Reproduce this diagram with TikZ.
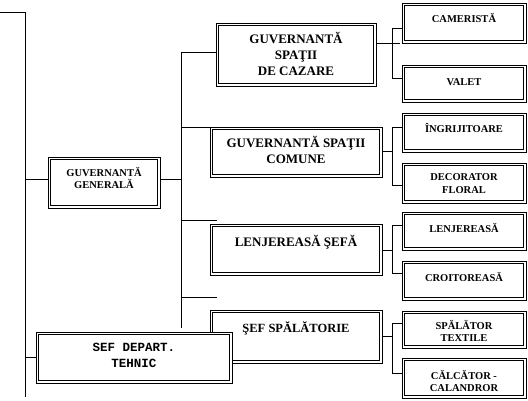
\documentclass[tikz,border=0pt]{standalone}
\usepackage{fontspec}
\setmainfont{Liberation Serif}
\newfontfamily\monofnt{Liberation Mono}
\usetikzlibrary{calc}
\tikzset{
  obox/.style={draw, line width=0.7pt, fill=white, inner sep=0pt, outer sep=0pt},
  ibox/.style={line width=1.2pt},
  conn/.style={line width=0.7pt},
  big/.style={font=\bfseries\fontsize{13}{16}\selectfont, align=center, inner sep=0pt},
  mid/.style={font=\bfseries\fontsize{10.5}{12}\selectfont, align=center, inner sep=0pt},
  small/.style={font=\bfseries\fontsize{10.5}{13}\selectfont, align=center, inner sep=0pt},
  mono/.style={font=\monofnt\bfseries\fontsize{12.5}{16}\selectfont, align=center, inner sep=0pt}
}
\newcommand\dblbox[5]{%
  \node[obox, minimum width={#4-#2}, minimum height={#5-#3}] (#1) at ({(#2+#4)/2},{(#3+#5)/2}) {};
  \draw[ibox] ($(#1.north west)+(2.7,2.7)$) rectangle ($(#1.south east)+(-2.7,-2.7)$);
}
\begin{document}
\begin{tikzpicture}[x=1pt,y=-1pt]
\useasboundingbox (0,0) rectangle (528,401);
% spine and connectors
\draw[conn] (0,12) -- (25,12) -- (25,397);
\draw[conn] (181,52) -- (181,328);
% boxes
\dblbox{gg}{48}{157}{160}{208}
\dblbox{gsc}{216}{23}{376}{86}
\dblbox{gscom}{210}{127}{382}{177}
\dblbox{ls}{210}{224}{382}{275}
\dblbox{ss}{210}{310}{382}{363}
\dblbox{cam}{402}{3}{526}{43}
\dblbox{val}{402}{65}{526}{102}
\dblbox{ing}{402}{113}{526}{152}
\dblbox{dec}{402}{163}{526}{203}
\dblbox{len}{402}{212}{526}{250}
\dblbox{cro}{402}{261}{526}{300}
\dblbox{spt}{402}{311}{526}{348}
\dblbox{cal}{402}{358}{526}{398}
\dblbox{sdt}{36}{332}{232}{383}
% texts
\node[mid] (ggt) at (104,178) {GUVERNANTĂ\\GENERALĂ};
\node[big] (gsct) at (296,54) {GUVERNANTĂ\\SPAŢII\\DE CAZARE};
\node[big] (gscomt) at (296,150) {GUVERNANTĂ SPAŢII\\COMUNE};
\node[big] (lst) at (296,242) {LENJEREASĂ ŞEFĂ};
\node[big, font=\bfseries\fontsize{12.5}{16}\selectfont] (sst) at (296,328) {ŞEF SPĂLĂTORIE};
\node[mono] (sdtt) at (134,355) {SEF DEPART.\\TEHNIC};
\node[small] (camt) at (464,18) {CAMERISTĂ};
\node[small] (valt) at (464,82) {VALET};
\node[small] (ingt) at (464,128) {ÎNGRIJITOARE};
\node[small] (dect) at (464,183.5) {DECORATOR\\FLORAL};
\node[small] (lent) at (464,228) {LENJEREASĂ};
\node[small] (crot) at (464,277) {CROITOREASĂ};
\node[mid] (sptt) at (464,331) {SPĂLĂTOR\\TEXTILE};
\node[mid] (calt) at (464,381) {CĂLCĂTOR -\\CALANDROR};
% left connectors
\draw[conn] (25,179) -- ([yshift=3.5pt]gg.west);
\draw[conn] (25,357) -- ([yshift=0.5pt]sdt.west);
\draw[conn] ([yshift=3.5pt]gg.east) -- (181,179);
\draw[conn] (181,52) -- ([yshift=2.5pt]gsc.west);
\draw[conn] (181,127) -- (gscom.north west);
\draw[conn] (181,220) -- (217,220);
\draw[conn] (181,297) -- (217,297);
% right connectors
\draw[conn] ([yshift=11.5pt]gsc.east) -- (400,43);
\draw[conn] ([yshift=-5pt]cam.west) -- (392,28) -- (392,78) -- ([yshift=5.5pt]val.west);
\draw[conn] ([yshift=1pt]gscom.east) -- (392,151);
\draw[conn] ([yshift=5.5pt]ing.west) -- (392,127) -- (392,185) -- ([yshift=-2pt]dec.west);
\draw[conn] ([yshift=-0.5pt]ls.east) -- (392,250);
\draw[conn] ([yshift=6pt]len.west) -- (392,225) -- (392,273) -- ([yshift=7.5pt]cro.west);
\draw[conn] ([yshift=0.5pt]ss.east) -- (392,336);
\draw[conn] ([yshift=6.5pt]spt.west) -- (392,323) -- (392,373) -- ([yshift=5pt]cal.west);
\end{tikzpicture}
\end{document}
